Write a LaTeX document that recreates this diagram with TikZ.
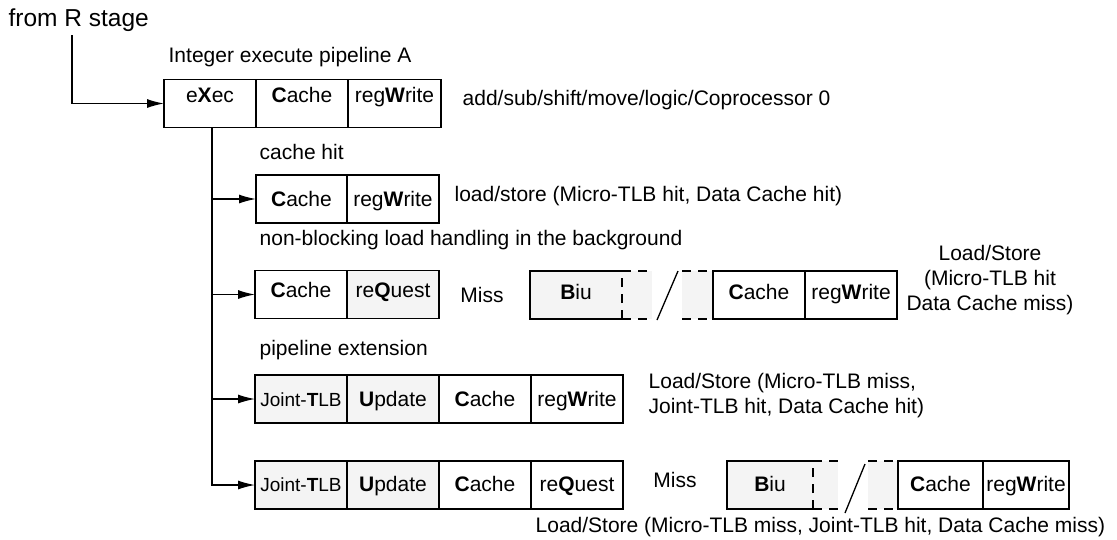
\documentclass[tikz,border=0pt]{standalone}
\usepackage{fontspec}
\setmainfont{Liberation Sans}
\usetikzlibrary{positioning,arrows.meta}
\definecolor{cellgray}{gray}{0.955}

\begin{document}
\begin{tikzpicture}[x=1pt,y=-1pt,line width=1.3pt,
        font=\fontsize{21}{25}\selectfont,
        cell/.style={draw, minimum height=48pt, inner sep=0pt, outer sep=0pt, anchor=west,
                     text height=15pt, text depth=0pt},
        grey cell/.style={cell, fill=cellgray},
        gap/.style={fill=cellgray, minimum height=48pt, inner sep=0pt, outer sep=0pt, anchor=west,
                    text height=15pt, text depth=0pt},
        lift/.style={text depth=#1},
        small/.style={font=\fontsize{19}{23}\selectfont},
        lbl/.style={anchor=west, inner sep=0pt},
        dash lines/.style={dash pattern=on 9pt off 7pt},
        feed/.style={-{Latex[length=17pt,width=9pt]}}]
        \useasboundingbox (0,0) rectangle (1117,539);

        % texts
        \node[lbl,font=\fontsize{24.5}{29}\selectfont](from) at (8,20){from R stage};
        \node[lbl](pipeA)at (168,57) {Integer execute pipeline A};
        \node[lbl](op1)  at (462,100){add/sub/shift/move/logic/Coprocessor 0};
        \node[lbl](hit)  at (259,152){cache hit};
        \node[lbl](op2)  at (454,196){load/store (Micro-TLB hit, Data Cache hit)};
        \node[lbl](nb)   at (259,240){non-blocking load handling in the background};
        \node[align=center,inner sep=0pt](op3) at (990,280){Load/Store\\(Micro-TLB hit\\Data Cache miss)};
        \node[lbl](ext)  at (259,350){pipeline extension};
        \node[lbl,align=left](op4) at (648,396){Load/Store (Micro-TLB miss,\\Joint-TLB hit, Data Cache hit)};
        \node[lbl](op5)  at (535,527){Load/Store (Micro-TLB miss, Joint-TLB hit, Data Cache miss)};

        % row 1
        \node[cell,lift=18pt,minimum width=92pt](x1) at (164,103.5){e\textbf{X}ec};
        \node[cell,lift=18pt,minimum width=92pt,right=0pt of x1](c1){\textbf{C}ache};
        \node[cell,lift=18pt,minimum width=93pt,right=0pt of c1](w1){reg\textbf{W}rite};

        % row 2
        \node[cell,minimum width=91pt](c2) at (256,199){\textbf{C}ache};
        \node[cell,minimum width=92pt,right=0pt of c2](w2){reg\textbf{W}rite};

        % row 3
        \node[cell,lift=10pt,minimum width=92pt](c3) at (255,294.5){\textbf{C}ache};
        \node[grey cell,lift=10pt,minimum width=92pt,right=0pt of c3](q3){re\textbf{Q}uest};
        \node(miss3) at (482,295){Miss};
        \node[gap,lift=6pt,minimum width=92pt](b3) at (530,295){\textbf{B}iu};
        \node[gap,minimum width=30pt,right=0pt of b3](g3a){};
        \node[gap,minimum width=31pt](g3b) at (682,295){};
        \node[cell,lift=6pt,minimum width=92pt,right=0pt of g3b](c3b){\textbf{C}ache};
        \node[cell,lift=6pt,minimum width=92pt,right=0pt of c3b](w3b){reg\textbf{W}rite};
        \draw(b3.north east)--(b3.north west)--(b3.south west)--(b3.south east);
        \draw[dash lines](g3a.south west)--(g3a.north west)--(g3a.north east)
                         (g3a.south west)--(g3a.south east);
        \draw[dash lines](g3b.north west)--(g3b.north east)--(g3b.south east)
                         (g3b.south west)--(g3b.south east);
        \draw(657,320)--(678,271);

        % row 4
        \node[grey cell,minimum width=92pt,small](j4) at (255,399){Joint-\textbf{T}LB};
        \node[grey cell,minimum width=92pt,right=0pt of j4](u4){\textbf{U}pdate};
        \node[cell,minimum width=92pt,right=0pt of u4](c4){\textbf{C}ache};
        \node[cell,minimum width=92pt,right=0pt of c4](w4){reg\textbf{W}rite};

        % row 5
        \node[grey cell,lift=3pt,minimum width=92pt,small](j5) at (255,485){Joint-\textbf{T}LB};
        \node[grey cell,lift=3pt,minimum width=92pt,right=0pt of j5](u5){\textbf{U}pdate};
        \node[cell,lift=3pt,minimum width=92pt,right=0pt of u5](c5){\textbf{C}ache};
        \node[cell,lift=3pt,minimum width=92pt,right=0pt of c5](q5){re\textbf{Q}uest};
        \node(miss5) at (675,480){Miss};
        \node[gap,lift=3pt,minimum width=86pt](b5) at (727,485){\textbf{B}iu};
        \node[gap,minimum width=25pt,right=0pt of b5](g5a){};
        \node[gap,minimum width=30pt](g5b) at (868,485){};
        \node[cell,lift=3pt,minimum width=85pt,right=0pt of g5b](c5b){\textbf{C}ache};
        \node[cell,lift=3pt,minimum width=86pt,right=0pt of c5b](w5b){reg\textbf{W}rite};
        \draw(b5.north east)--(b5.north west)--(b5.south west)--(b5.south east);
        \draw[dash lines](g5a.south west)--(g5a.north west)--(g5a.north east)
                         (g5a.south west)--(g5a.south east);
        \draw[dash lines](g5b.north west)--(g5b.north east)--(g5b.south east)
                         (g5b.south west)--(g5b.south east);
        \draw(845,513)--(865,464);

        % connectors
        \coordinate(rin) at (72,35);
        \coordinate(t0)  at (212,128);
        \draw[feed](rin)|-(x1.west);
        \draw[feed](t0)|-(j5.west);
        \draw[feed](t0|-c2.west)--(c2.west);
        \draw[feed](t0|-c3.west)--(c3.west);
        \draw[feed](t0|-j4.west)--(j4.west);
      \end{tikzpicture}
\end{document}
